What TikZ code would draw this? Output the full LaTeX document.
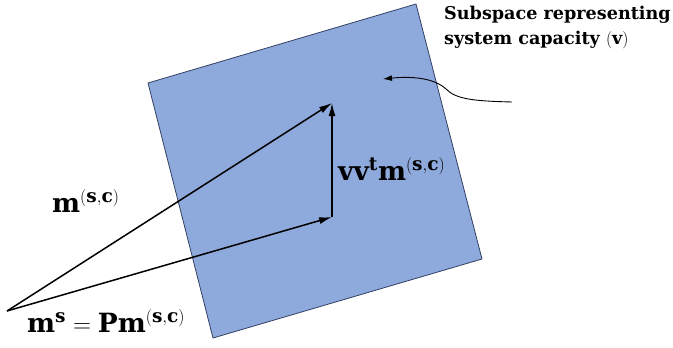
\documentclass[tikz,border=0pt]{standalone}
\usepackage{amsmath,amssymb}
\usepackage{fontspec}
\setmainfont{DejaVu Serif}
\usetikzlibrary{arrows.meta,positioning}
\definecolor{planefill}{RGB}{142,169,219}
\definecolor{planeedge}{RGB}{50,64,98}
\begin{document}
\begin{tikzpicture}[x=1pt,y=-1pt,every node/.style={inner sep=0pt},
  vec/.style={line width=1.5pt,-{Latex[length=13pt,width=7pt]}},
  mathlbl/.style={anchor=base west,font=\fontsize{26.5}{31}\selectfont},
  notelbl/.style={anchor=base west,align=left,font=\fontsize{17.6}{25}\selectfont\bfseries}]
\useasboundingbox (0,0) rectangle (673,348);
\coordinate (c1) at (416,4);
\coordinate (c2) at (482,259);
\coordinate (c3) at (213,338);
\coordinate (c4) at (148,83);
\filldraw[fill=planefill,draw=planeedge,line width=.8pt] (c1)--(c2)--(c3)--(c4)--cycle;
\coordinate (o) at (7,311);
\coordinate (p) at (332,217);
\coordinate (m) at (332,103);
\draw[vec] (o)--(m);
\draw[vec] (o)--(p);
\draw[vec] (p)--(m);
\coordinate (cs) at (512,102);
\coordinate (ce) at (383,79);
\draw[line width=.9pt,-{Latex[length=9pt,width=6pt]}] (cs) .. controls (472,101) and (456,99) .. (446,89) .. controls (434,78) and (412,76) .. (ce);
\node[mathlbl] (lm) at (52,212) {$\mathbf{m}^{(\mathbf{s},\mathbf{c})}$};
\node[mathlbl] (lms) at (27,332) {$\mathbf{m}^{\mathbf{s}}=\mathbf{P}\mathbf{m}^{(\mathbf{s},\mathbf{c})}$};
\node[mathlbl] (lvv) at (338,180) {$\mathbf{v}\mathbf{v}^{\mathbf{t}}\mathbf{m}^{(\mathbf{s},\mathbf{c})}$};
\node[notelbl] (lsub) at (444,45) {Subspace representing\\system capacity $(\mathbf{v})$};
\end{tikzpicture}
\end{document}
